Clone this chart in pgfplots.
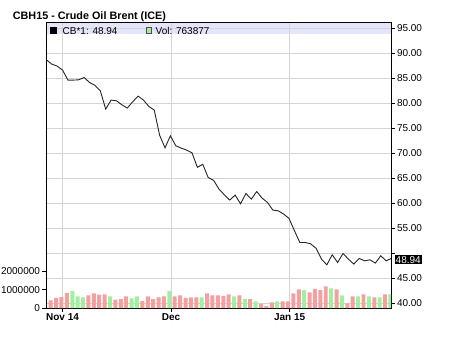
\documentclass[border=0pt]{standalone}
\usepackage{fontspec}
\setmainfont{Liberation Sans}
\usepackage{pgfplots}
\pgfplotsset{compat=1.18}
\definecolor{bandc}{RGB}{228,228,250}
\definecolor{gridc}{RGB}{212,212,212}
\definecolor{pinkbar}{RGB}{242,160,160}
\definecolor{greenbar}{RGB}{160,240,160}
\begin{document}
\begin{tikzpicture}[x=1pt,y=1pt]
\useasboundingbox (0,0) rectangle (461,354);
\node[anchor=base west, inner sep=0pt, font=\bfseries\fontsize{10.8}{12}\selectfont] at (12.7,334.7) {CBH15 - Crude Oil Brent (ICE)};
% band (background)
\begin{axis}[
  at={(46pt,46pt)}, anchor=south west, scale only axis,
  width=345pt, height=285.3pt,
  xmin=-0.87, xmax=63.1, ymin=39.06, ymax=96.12,
  axis lines=none, ticks=none,
]
\fill[bandc] (axis cs:-0.87,93.86) rectangle (axis cs:63.1,96.12);
\end{axis}
% price axis
\begin{axis}[
  at={(46pt,46pt)}, anchor=south west, scale only axis,
  width=345pt, height=285.3pt,
  xmin=-0.87, xmax=63.1, ymin=39.06, ymax=96.12,
  xtick={2.2,22.3,44.3}, xticklabels={Nov 14,Dec,Jan 15},
  xticklabel style={font=\bfseries\fontsize{10}{12}\selectfont, yshift=1.5pt},
  ytick={40,45,50,55,60,65,70,75,80,85,90,95},
  yticklabels={40.00,45.00,,55.00,60.00,65.00,70.00,75.00,80.00,85.00,90.00,95.00},
  yticklabel style={font=\fontsize{10}{12}\selectfont, anchor=west, xshift=-1.5pt},
  ytick pos=right, yticklabel pos=right, xtick pos=bottom,
  tick align=outside, major tick length=4pt,
  tick style={black, line width=0.6pt},
  grid=major, grid style={gridc, line width=0.6pt},
  axis line style={black, line width=0.9pt},
]
\addplot[black!85, line width=0.9pt, mark=none] coordinates {
(-0.74,88.64) (0.2,87.84) (1.2,87.44) (2.2,86.64) (3.2,84.64) (4.2,84.64) (5.2,84.7) (6.2,85.16) (7.2,84.16) (8.2,83.6) (9.2,82.5) (10.2,78.84) (11.2,80.64) (12.2,80.5) (13.2,79.7) (14.2,79.04) (15.2,80.3) (16.2,81.44) (17.2,80.64) (18.2,79.36) (19.2,78.64) (20.2,73.6) (21.2,71.1) (22.2,73.5) (23.2,71.5) (24.2,71.04) (25.2,70.64) (26.2,70.1) (27.2,67.2) (28.2,67.8) (29.2,65.16) (30.2,64.6) (31.2,62.84) (32.2,61.7) (33.2,60.64) (34.2,61.64) (35.2,59.9) (36.2,61.96) (37.2,60.84) (38.2,62.36) (39.2,61.04) (40.2,60.16) (41.2,58.64) (42.2,58.5) (43.2,57.84) (44.2,56.96) (45.2,54.5) (46.2,52.16) (47.2,52.16) (48.2,51.9) (49.2,51.0) (50.2,48.84) (51.2,47.7) (52.2,49.7) (53.2,48.16) (54.2,49.96) (55.2,48.84) (56.2,47.84) (57.2,48.96) (58.2,48.5) (59.2,48.7) (60.2,48.04) (61.2,49.5) (62.2,48.5) (63.1,48.94)
};
\end{axis}
% volume axis
\begin{axis}[
  at={(46pt,46pt)}, anchor=south west, scale only axis,
  width=345pt, height=285.3pt,
  xmin=-0.87, xmax=63.1, ymin=0, ymax=15590000,
  xtick=\empty, scaled y ticks=false,
  ytick={0,1000000,2000000}, yticklabels={0,1000000,2000000},
  yticklabel style={font=\fontsize{10}{12}\selectfont, anchor=east, xshift=1.5pt},
  ytick pos=left, tick align=outside, major tick length=4pt,
  tick style={black, line width=0.6pt},
  axis line style={draw=none},
]
\addplot[ybar, bar width=0.74, fill=pinkbar, draw=none] coordinates {
(0,420000) (1,550000) (2,600000) (3,820000) (7,690000) (8,800000) (9,730000) (10,750000) (12,460000) (13,490000) (14,640000) (17,380000) (18,640000) (19,490000) (20,580000) (21,640000) (23,640000) (24,690000) (25,550000) (26,580000) (27,580000) (29,800000) (30,690000) (31,690000) (32,660000) (33,750000) (35,690000) (37,490000) (39,220000) (40,110000) (41,310000) (43,360000) (44,360000) (45,800000) (46,1020000) (48,860000) (49,1040000) (50,980000) (51,1180000) (53,1020000) (55,250000) (56,640000) (58,750000) (60,580000) (62,750000)
};
\addplot[ybar, bar width=0.74, fill=greenbar, draw=none] coordinates {
(4,930000) (5,640000) (6,580000) (11,640000) (15,530000) (16,640000) (22,930000) (28,580000) (34,640000) (36,490000) (38,360000) (42,360000) (47,970000) (52,1070000) (54,690000) (57,640000) (59,640000) (61,580000) (63,750000)
};
\end{axis}
% legend in band
\fill[black] (50,320.3) rectangle (56.7,327);
\node[anchor=base west, inner sep=0pt, font=\fontsize{10}{12}\selectfont] at (62.5,319.7) {CB*1: 48.94};
\filldraw[fill=greenbar, draw=black!70, line width=0.6pt] (146.3,320.6) rectangle (151.7,326.3);
\node[anchor=base west, inner sep=0pt, font=\fontsize{10}{12}\selectfont] at (155.5,319.7) {Vol: 763877};
% last value tag
\node[fill=black, text=white, anchor=west, inner sep=1pt, font=\fontsize{10}{12}\selectfont] at (394.5,94.3) {48.94};
\end{tikzpicture}
\end{document}
